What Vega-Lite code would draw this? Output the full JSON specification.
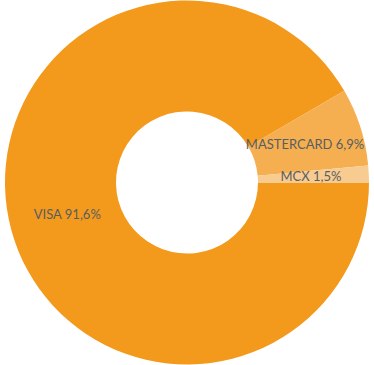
{
  "$schema": "https://vega.github.io/schema/vega-lite/v6.json",
  "width": 374,
  "height": 365,
  "autosize": {"type": "fit", "contains": "padding"},
  "padding": 0,
  "background": "white",
  "config": {"view": {"stroke": null}},
  "data": {
    "values": [
      {"card": "VISA", "pct": 91.6, "label": "VISA 91,6%", "ord": 1},
      {"card": "MASTERCARD", "pct": 6.9, "label": "MASTERCARD 6,9%", "ord": 2},
      {"card": "MCX", "pct": 1.5, "label": "MCX 1,5%", "ord": 3}
    ]
  },
  "encoding": {
    "theta": {"field": "pct", "type": "quantitative", "stack": true, "scale": {"range": [1.5708, 7.8540]}},
    "order": {"field": "ord", "type": "quantitative"}
  },
  "layer": [
    {
      "mark": {"type": "arc", "outerRadius": 182, "innerRadius": 71},
      "encoding": {
        "color": {
          "field": "card",
          "type": "nominal",
          "scale": {"domain": ["VISA", "MASTERCARD", "MCX"], "range": ["#F39A1C", "#F5AF50", "#F8CC90"]},
          "legend": null
        }
      }
    },
    {
      "mark": {"type": "text", "radius": 124, "font": "Lato", "fontSize": 13, "color": "#595D62"},
      "encoding": {"text": {"field": "label", "type": "nominal"}}
    }
  ]
}
